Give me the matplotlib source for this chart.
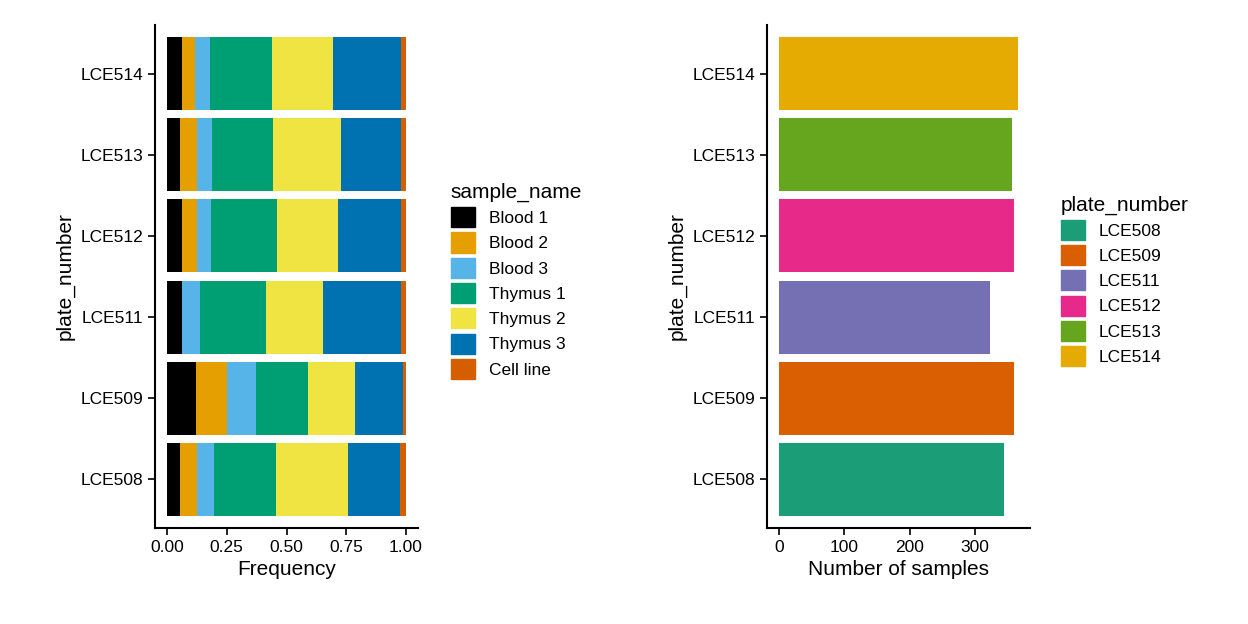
import matplotlib
matplotlib.use("Agg")
import matplotlib.pyplot as plt
from matplotlib.patches import Patch
import numpy as np

plates = ["LCE508", "LCE509", "LCE511", "LCE512", "LCE513", "LCE514"]
samples = ["Blood 1", "Blood 2", "Blood 3", "Thymus 1", "Thymus 2", "Thymus 3", "Cell line"]
sample_colors = ["#000000", "#E69F00", "#56B4E9", "#009E73", "#F0E442", "#0072B2", "#D55E00"]
# frequency per plate (rows follow plates), columns follow samples
freq = np.array([
    [0.055, 0.072, 0.068, 0.262, 0.300, 0.219, 0.024],
    [0.122, 0.131, 0.118, 0.219, 0.198, 0.198, 0.014],
    [0.063, 0.000, 0.076, 0.274, 0.241, 0.325, 0.021],
    [0.063, 0.063, 0.059, 0.274, 0.257, 0.262, 0.022],
    [0.055, 0.072, 0.063, 0.253, 0.283, 0.253, 0.021],
    [0.063, 0.055, 0.063, 0.257, 0.257, 0.283, 0.021],
])
n_samples = [345, 360, 323, 360, 357, 366]
plate_colors = ["#1B9E77", "#D95F02", "#7570B3", "#E7298A", "#66A61E", "#E6AB02"]

plt.rcParams["font.family"] = "Liberation Sans"
fig = plt.figure(figsize=(12.48, 6.24), dpi=100)
ax1 = fig.add_axes([155/1248, 1-528/624, 263/1248, 503/624])
ax2 = fig.add_axes([767/1248, 1-528/624, 263/1248, 503/624])

y = np.arange(len(plates))
left = np.zeros(len(plates))
for j, s in enumerate(samples):
    ax1.barh(y, freq[:, j], left=left, height=0.9, color=sample_colors[j])
    left += freq[:, j]
ax1.set_xlim(-0.05, 1.05)
ax1.set_xticks([0, 0.25, 0.5, 0.75, 1.0])
ax1.set_xticklabels(["0.00", "0.25", "0.50", "0.75", "1.00"])
ax1.set_xlabel("Frequency", fontsize=15)

ax2.barh(y, n_samples, height=0.9, color=plate_colors)
ax2.set_xlim(-18, 384)
ax2.set_xticks([0, 100, 200, 300])
ax2.set_xlabel("Number of samples", fontsize=15)

for ax in (ax1, ax2):
    ax.set_ylim(-0.6, 5.6)
    ax.set_yticks(y)
    ax.set_yticklabels(plates)
    ax.set_ylabel("plate_number", fontsize=15)
    for s in ("top", "right"):
        ax.spines[s].set_visible(False)
    for s in ("left", "bottom"):
        ax.spines[s].set_linewidth(1.5)
    ax.tick_params(labelsize=12.5, width=1.2, length=5, colors="black")

h1 = [Patch(color=c, label=s) for s, c in zip(samples, sample_colors)]
fig.legend(handles=h1, title="sample_name", loc="center left", bbox_to_anchor=(435/1248, 0.55),
           frameon=False, fontsize=12.5, title_fontsize=15, handlelength=1.4, handleheight=1.4,
           labelspacing=0.3, alignment="left")
h2 = [Patch(color=c, label=p) for p, c in zip(plates, plate_colors)]
fig.legend(handles=h2, title="plate_number", loc="center left", bbox_to_anchor=(1045/1248, 0.55),
           frameon=False, fontsize=12.5, title_fontsize=15, handlelength=1.4, handleheight=1.4,
           labelspacing=0.3, alignment="left")

fig.savefig("out.png", dpi=100)
